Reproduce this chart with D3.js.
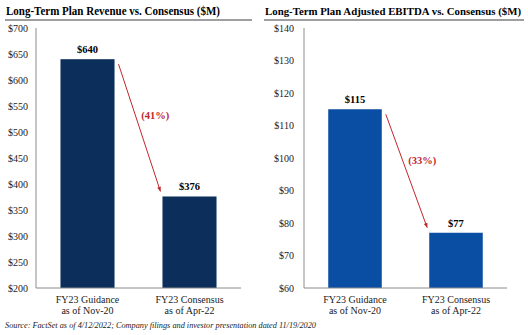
<!DOCTYPE html>
<html>
<head>
<meta charset="utf-8">
<script src="https://cdn.jsdelivr.net/npm/d3@7"></script>
<style>
  body { margin: 0; background: #fff; }
  svg text { font-family: "Liberation Serif", "DejaVu Serif", "Noto Serif", "Times New Roman", serif; }
</style>
</head>
<body>
<div id="chart"></div>
<script>
const categories = [['FY23 Guidance', 'as of Nov-20'], ['FY23 Consensus', 'as of Apr-22']]
const revenue = [640, 376]
const ebitda = [115, 77]
const revenueTicks = [200, 250, 300, 350, 400, 450, 500, 550, 600, 650, 700]
const ebitdaTicks = [60, 70, 80, 90, 100, 110, 120, 130, 140]

const serif = '"Liberation Serif", "DejaVu Serif", "Times New Roman", serif'

const svg = d3.select('#chart').append('svg')
  .attr('width', 528)
  .attr('height', 335)
  .style('font-family', serif)

const panels = [
  {
    title: 'Long-Term Plan Revenue vs. Consensus ($M)', titleW: 214, titleSize: 12,
    values: revenue, ticks: revenueTicks, color: '#0b2f5a',
    left: 6, right: 252, axisX: 36, axisEnd: 241, labelX: 28
  },
  {
    title: 'Long-Term Plan Adjusted EBITDA vs. Consensus ($M)', titleW: 256, titleSize: 10.5,
    values: ebitda, ticks: ebitdaTicks, color: '#0a4ea3',
    left: 265, right: 524, axisX: 304, axisEnd: 507, labelX: 294
  }
]

panels.forEach(p => {
  const g = svg.append('g')

  // title + underline
  g.append('text')
    .attr('x', p.left)
    .attr('y', 15)
    .attr('font-size', p.titleSize + 'px')
    .attr('font-weight', 'bold')
    .attr('textLength', p.titleW)
    .attr('lengthAdjust', 'spacingAndGlyphs')
    .text(p.title)
  g.append('line')
    .attr('x1', p.left - 1).attr('x2', p.right)
    .attr('y1', 20).attr('y2', 20)
    .attr('stroke', '#7f7f7f')
    .attr('stroke-width', 1.5)

  const y = d3.scaleLinear()
    .domain(d3.extent(p.ticks))
    .range([288, 28])

  const x = d3.scaleBand()
    .domain(d3.range(p.values.length))
    .range([p.axisX, p.axisEnd])
    .paddingInner(0.47)
    .paddingOuter(0.24)

  // y tick labels
  g.selectAll('.tick-label')
    .data(p.ticks)
    .join('text')
    .attr('x', p.labelX)
    .attr('y', d => y(d) + 3.5)
    .attr('text-anchor', 'end')
    .attr('font-size', '10px')
    .attr('fill', '#222')
    .text(d => '$' + d)

  // bars
  g.selectAll('rect')
    .data(p.values)
    .join('rect')
    .attr('x', (d, i) => x(i))
    .attr('width', x.bandwidth())
    .attr('y', d => y(d))
    .attr('height', d => y.range()[0] - y(d))
    .attr('fill', p.color)

  // axes lines
  g.append('line')
    .attr('x1', p.axisX).attr('x2', p.axisX)
    .attr('y1', 28).attr('y2', 288)
    .attr('stroke', '#8c8c8c')
  g.append('line')
    .attr('x1', p.axisX).attr('x2', p.axisEnd)
    .attr('y1', 288).attr('y2', 288)
    .attr('stroke', '#8c8c8c')

  // value labels
  g.selectAll('.val')
    .data(p.values)
    .join('text')
    .attr('x', (d, i) => x(i) + x.bandwidth() / 2)
    .attr('y', d => y(d) - 6)
    .attr('text-anchor', 'middle')
    .attr('font-size', '10.5px')
    .attr('font-weight', 'bold')
    .text(d => '$' + d)

  // category labels
  categories.forEach((c, i) => {
    const t = g.append('text')
      .attr('text-anchor', 'middle')
      .attr('font-size', '10px')
      .attr('fill', '#222')
    c.forEach((line, j) => {
      t.append('tspan')
        .attr('x', x(i) + x.bandwidth() / 2)
        .attr('y', 303 + j * 11)
        .text(line)
    })
  })

  // change arrow
  const x1 = x(0) + x.bandwidth() + 4
  const y1 = y(p.values[0]) + 5
  const x2 = x(1) - 2
  const y2 = y(p.values[1]) - 5
  const ang = Math.atan2(y2 - y1, x2 - x1)
  g.append('line')
    .attr('x1', x1).attr('y1', y1)
    .attr('x2', x2).attr('y2', y2)
    .attr('stroke', '#c0282d')
    .attr('stroke-width', 1)
  const head = 5
  g.append('path')
    .attr('d', `M${x2},${y2}
      L${x2 - head * Math.cos(ang - 0.4)},${y2 - head * Math.sin(ang - 0.4)}
      L${x2 - head * Math.cos(ang + 0.4)},${y2 - head * Math.sin(ang + 0.4)}Z`)
    .attr('fill', '#c0282d')

  const pct = Math.round((1 - p.values[1] / p.values[0]) * 100)
  const f = 0.4
  g.append('text')
    .attr('x', x1 + (x2 - x1) * f + 6)
    .attr('y', y1 + (y2 - y1) * f + 4)
    .attr('font-size', '10.5px')
    .attr('font-weight', 'bold')
    .attr('fill', '#c0282d')
    .text(`(${pct}%)`)
})

svg.append('text')
  .attr('x', 5)
  .attr('y', 328)
  .attr('font-size', '8px')
  .attr('font-style', 'italic')
  .attr('fill', '#222')
  .attr('textLength', 311)
  .attr('lengthAdjust', 'spacingAndGlyphs')
  .text('Source: FactSet as of 4/12/2022; Company filings and investor presentation dated 11/19/2020')
</script>
</body>
</html>
